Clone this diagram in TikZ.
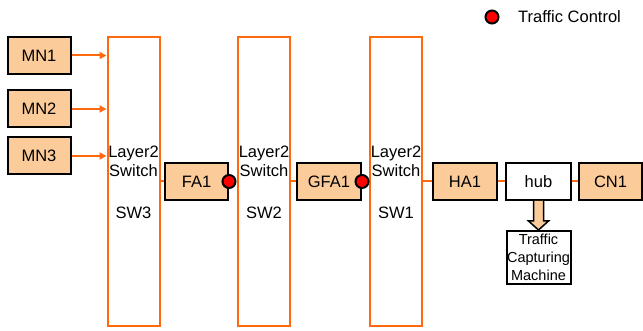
\documentclass[tikz,border=0pt]{standalone}
\usepackage{fontspec}
\setmainfont{Liberation Sans}
\usetikzlibrary{arrows.meta,positioning,calc}
\definecolor{swline}{HTML}{FF6A10}
\definecolor{peach}{HTML}{FCCB9A}

\begin{document}
\begin{tikzpicture}[x=1pt,y=-1pt,
    host/.style={draw=black, line width=2pt, fill=peach, minimum width=63pt, minimum height=37pt, inner sep=0pt, font=\fontsize{16.5}{19}\selectfont},
    switch/.style={draw=swline, line width=2pt, fill=white, minimum width=52pt, minimum height=289pt},
    swtext/.style={align=center, inner sep=0pt, font=\fontsize{16.5}{19}\selectfont},
    ctrl/.style={circle, draw=black, line width=2pt, fill=red, minimum size=13pt, inner sep=0pt},
    link/.style={draw=swline, line width=2pt},
    arrow/.style={link, -{Triangle[length=7pt,width=7pt]}},
    fatarrow/.style={draw=black, line width=1.5pt, fill=peach, line join=miter}
]
\useasboundingbox (0,0) rectangle (643,331);

% switches
\node[switch] (sw3) at (133.5,181.5) {};
\node[switch] (sw2) at (264,181.5) {};
\node[switch] (sw1) at (396,181.5) {};
\foreach \s/\n in {sw3/SW3,sw2/SW2,sw1/SW1}{
    \node[swtext] (\s lbl) at ($(\s.center)+(0,-20.5)$) {Layer2\\Switch};
    \node[swtext] (\s name) at ($(\s.center)+(0,31.5)$) {\n};
}

% mobile nodes
\node[host] (mn1) at (39,55.5) {MN1};
\node[host] (mn2) at (39,109) {MN2};
\node[host] (mn3) at (39,156) {MN3};
\foreach \m in {mn1,mn2,mn3}
    \draw[arrow] (\m.east) -- (\m.east -| sw3.west);

% agents
\node[host] (fa1) at (196.5,181.5) {FA1};
\node[host, minimum width=64pt] (gfa1) at (329,181.5) {GFA1};
\node[host, minimum width=64pt] (ha1) at (465,181.5) {HA1};
\node[host, fill=white, minimum width=65pt] (hub) at (538.5,181.5) {hub};
\node[host] (cn1) at (610.5,181.5) {CN1};
\node[host, fill=white, minimum width=64pt, minimum height=53pt, align=center, font=\fontsize{14.5}{18}\selectfont] (tcm) at (538.5,257.5) {Traffic\\Capturing\\Machine};

\draw[link] (sw3.east |- fa1.west) -- (fa1.west);
\draw[link] (sw2.east |- gfa1.west) -- (gfa1.west);
\draw[link] (sw1.east |- ha1.west) -- (ha1.west);
\draw[link] (ha1) -- (hub);
\draw[link] (hub) -- (cn1);

% capture arrow
\draw[fatarrow] ($(hub.south)+(-5,0)$) -- ($(tcm.north)+(-5,-9)$) -- ($(tcm.north)+(-10,-9)$)
    -- (tcm.north) -- ($(tcm.north)+(10,-9)$) -- ($(tcm.north)+(5,-9)$) -- ($(hub.south)+(5,0)$);

% traffic control points
\node[ctrl] (tc1) at (fa1.east) {};
\node[ctrl] (tc2) at (gfa1.east) {};
\node[ctrl] (legdot) at (492,17) {};
\node[anchor=west, inner sep=0pt, font=\fontsize{16.5}{19}\selectfont] (legtext) at (518,17) {Traffic Control};
\end{tikzpicture}
\end{document}
